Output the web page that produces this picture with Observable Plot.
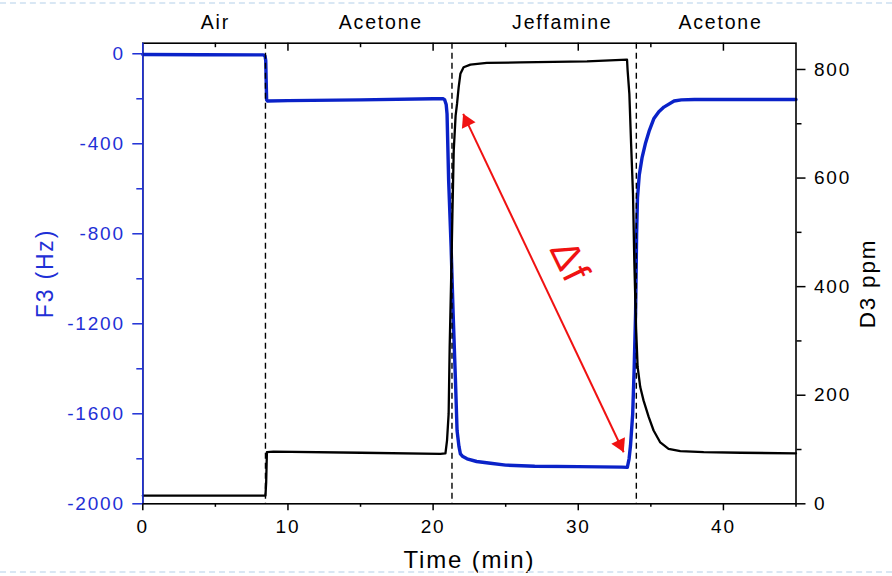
<!DOCTYPE html>
<html>
<head>
<meta charset="utf-8">
<script src="https://cdn.jsdelivr.net/npm/d3@7"></script>
<script src="https://cdn.jsdelivr.net/npm/@observablehq/plot@0.6"></script>
<style>
  html, body { margin: 0; padding: 0; background: white; }
  #wrap { position: relative; width: 892px; height: 576px; }
  .band { position: absolute; left: 0; width: 892px; border-top: 2px dashed #d9e7f4; pointer-events: none; }
  g[aria-label="rotated-title"] text, g[aria-label="delta"] text { letter-spacing: 0; }
</style>
</head>
<body>
<div id="wrap"></div>
<script>
// ---- data ----
// F3 frequency shift (Hz), blue, left axis
const timeF3 = [0, 4, 8.3, 8.42, 8.47, 8.5, 8.53, 8.6, 10, 15, 20, 20.7, 20.8, 20.9, 20.96, 21.07, 21.24, 21.38, 21.54, 21.65, 21.78, 21.88, 22.05, 22.34, 23, 23.95, 25, 27, 30, 33, 33.38, 33.5, 33.6, 33.75, 33.85, 33.95, 34.02, 34.08, 34.2, 34.4, 34.62, 34.9, 35.2, 35.55, 35.9, 36.6, 37.1, 38, 45];
const valF3  = [-3, -4, -5, -10, -30, -120, -205, -210, -208, -205, -200, -200, -205, -225, -267, -563, -860, -1156, -1452, -1674, -1745, -1778, -1790, -1800, -1812, -1820, -1828, -1833, -1835, -1837, -1838, -1800, -1740, -1600, -1400, -1150, -800, -640, -540, -460, -400, -340, -289, -258, -237, -210, -205, -203, -203];
// D3 ppm, black, right axis
const timeD3 = [0, 8.45, 8.5, 8.55, 9, 15, 20.5, 20.85, 20.96, 21.07, 21.14, 21.24, 21.33, 21.42, 21.55, 21.65, 21.76, 21.88, 22.1, 22.57, 23.7, 26, 30.6, 33.36, 33.4, 33.52, 33.64, 33.77, 33.86, 33.98, 34.09, 34.27, 34.5, 34.85, 35.19, 35.65, 36.22, 37.03, 38.64, 41.2, 45];
const valD3  = [15, 15, 40, 95, 96, 94, 92, 93, 117, 166, 288, 411, 534, 650, 715, 737, 767, 792, 804, 809, 812, 813, 815, 818, 798, 755, 663, 571, 448, 325, 252, 215, 190, 160, 135, 113, 101, 97, 95, 94, 93];

// phase labels and boundaries
const phaseLabels  = ["Air", "Acetone", "Jeffamine", "Acetone"];
const phaseCenters = [5.0, 16.4, 28.9, 39.8];
const phaseBounds  = [8.45, 21.3, 34.0];

// ticks
const xMajor = [0, 10, 20, 30, 40];
const xMinor = [5, 15, 25, 35, 45];
const xTopMajor = [10, 20, 30, 40];
const xTopMinor = [5, 15, 25, 35];
const f3Major = [0, -400, -800, -1200, -1600, -2000];
const f3Minor = [-200, -600, -1000, -1400, -1800];
const d3Major = [0, 200, 400, 600, 800];
const d3Minor = [100, 300, 500, 700];

// annotation: double arrow (time, F3) and its label
const arrowStart = [22.07, -267];
const arrowEnd   = [33.13, -1771];
const deltaLabel = { text: "Δf", t: 29.4, f: -925 };

// axis domains
const F3_MIN = -2000, F3_MAX = 47, D3_MAX = 848.4;
const k = (F3_MAX - F3_MIN) / D3_MAX;
const toF3 = (d) => F3_MIN + d * k;
const fromF3 = (f) => (f - F3_MIN) / k;

const f3Data = timeF3.map((t, i) => ({ t, v: valF3[i] }));
const d3Data = timeD3.map((t, i) => ({ t, v: toF3(valD3[i]) }));

const BLUE_LINE = "#0a22c8";
const BLUE_AXIS = "#1f30d6";
const RED = "#f01212";

const W = 892, H = 576;
const mL = 142.3, mR = 96.5, mT = 42.7, mB = 72.7;
const plotH = H - mT - mB;

const chart = Plot.plot({
  width: W, height: H,
  marginLeft: mL, marginRight: mR, marginTop: mT, marginBottom: mB,
  x: { domain: [0, 45], label: null },
  y: { domain: [F3_MIN, F3_MAX], label: null },
  style: { fontFamily: "'Liberation Sans', Arial, sans-serif", fontSize: "19px", color: "black", background: "white", letterSpacing: "1.8px" },
  marks: [
    Plot.line(f3Data, { x: "t", y: "v", stroke: BLUE_LINE, strokeWidth: 3.4, strokeLinejoin: "round" }),
    Plot.line(d3Data, { x: "t", y: "v", stroke: "black", strokeWidth: 2.3, strokeLinejoin: "round" }),
    Plot.ruleX(phaseBounds, { stroke: "black", strokeWidth: 1.4, strokeDasharray: "6,4" }),
    Plot.frame({ stroke: "black", strokeWidth: 1.6 }),
    Plot.ruleX([0], { stroke: BLUE_AXIS, strokeWidth: 1.6 }),
    // top inward ticks
    Plot.ruleX(xTopMajor, { stroke: "black", strokeWidth: 1.5, insetBottom: plotH - 8 }),
    Plot.ruleX(xTopMinor, { stroke: "black", strokeWidth: 1.5, insetBottom: plotH - 4.5 }),
    // bottom axis
    Plot.axisX(xMajor, { anchor: "bottom", tickSize: 7, tickPadding: 9, strokeWidth: 1.5, fontSize: 19, label: null, tickFormat: (d) => String(d) }),
    Plot.axisX(xMinor, { anchor: "bottom", tickSize: 3.5, strokeWidth: 1.5, label: null, tickFormat: () => "" }),
    // left axis (F3)
    Plot.axisY(f3Major, { anchor: "left", tickSize: 10, tickPadding: 8, strokeWidth: 1.5, fontSize: 19, color: BLUE_AXIS, label: null, tickFormat: (d) => String(d) }),
    Plot.axisY(f3Minor, { anchor: "left", tickSize: 6, strokeWidth: 1.5, color: BLUE_AXIS, label: null, tickFormat: () => "" }),
    // right axis (D3)
    Plot.axisY(d3Major.map(toF3), { anchor: "right", tickSize: 9, tickPadding: 9, strokeWidth: 1.5, fontSize: 19, label: null, tickFormat: (d) => String(Math.round(fromF3(d))) }),
    Plot.axisY(d3Minor.map(toF3), { anchor: "right", tickSize: 5, strokeWidth: 1.5, label: null, tickFormat: () => "" }),
    // phase labels
    Plot.text(phaseLabels, { x: (d, i) => phaseCenters[i], text: (d) => d, frameAnchor: "top", textAnchor: "middle", lineAnchor: "middle", dy: -20, fontSize: 19.5, fill: "black" }),
    // axis titles
    Plot.text(["Time (min)"], { text: (d) => d, frameAnchor: "bottom", textAnchor: "middle", lineAnchor: "middle", dy: 57, fontSize: 24, fill: "black" }),
    Plot.text(["F3 (Hz)"], { text: (d) => d, frameAnchor: "left", textAnchor: "middle", lineAnchor: "middle", dx: -97, rotate: -90, fontSize: 23, fill: BLUE_AXIS, ariaLabel: "rotated-title" }),
    Plot.text(["D3 ppm"], { text: (d) => d, frameAnchor: "right", textAnchor: "middle", lineAnchor: "middle", dx: 72, dy: 10, rotate: -90, fontSize: 22.5, fill: "black", ariaLabel: "rotated-title" }),
    // double arrow
    Plot.link([{ a: arrowStart, b: arrowEnd }], { x1: (d) => d.a[0], y1: (d) => d.a[1], x2: (d) => d.b[0], y2: (d) => d.b[1], stroke: RED, strokeWidth: 2 }),
    Plot.dot([arrowEnd], { x: (d) => d[0], y: (d) => d[1], symbol: "triangle", r: 5.6, fill: RED, rotate: 154.6, dx: -3.7, dy: -7.8 }),
    Plot.dot([arrowStart], { x: (d) => d[0], y: (d) => d[1], symbol: "triangle", r: 5.6, fill: RED, rotate: -25.4, dx: 3.7, dy: 7.8 }),
    Plot.text([deltaLabel], { x: "t", y: "f", text: "text", rotate: 64, fontSize: 40, fill: RED, ariaLabel: "delta" })
  ]
});

const wrap = document.getElementById("wrap");
wrap.appendChild(chart);
const b1 = document.createElement("div"); b1.className = "band"; b1.style.top = "2px"; wrap.appendChild(b1);
const b2 = document.createElement("div"); b2.className = "band"; b2.style.top = "571px"; wrap.appendChild(b2);
</script>
</body>
</html>
